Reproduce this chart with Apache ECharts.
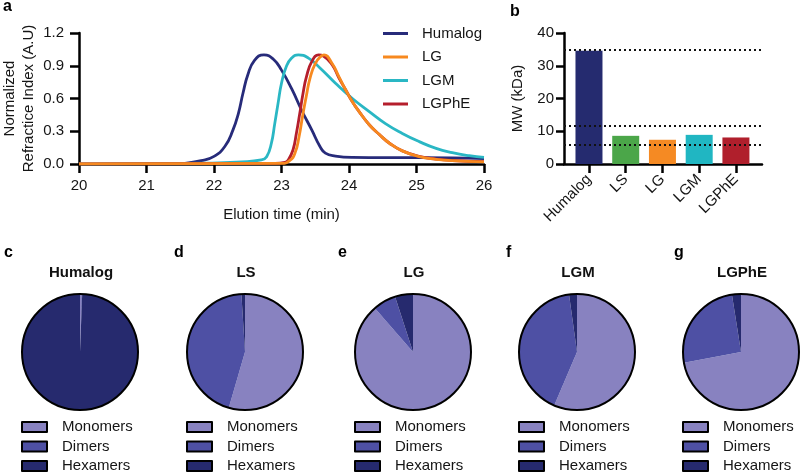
<!DOCTYPE html>
<html>
<head>
<meta charset="utf-8">
<script src="https://cdn.jsdelivr.net/npm/echarts@6.0.0/dist/echarts.min.js"></script>
<style>
html,body{margin:0;padding:0;background:#fff;}
#chart{width:800px;height:474px;}
</style>
</head>
<body>
<div id="chart"></div>
<script>
// ---------- DATA ----------
// Panel a: normalized refractive index vs elution time [min, A.U]
const humalogTrace = [[21.57,0.006],[21.81,0.03],[22.0,0.07],[22.16,0.16],[22.28,0.31],[22.36,0.46],[22.43,0.65],[22.5,0.815],[22.6,0.95],[22.74,1.0],[22.88,0.96],[23.0,0.86],[23.15,0.69],[23.3,0.49],[23.45,0.31],[23.57,0.16],[23.65,0.10],[23.8,0.073],[24.05,0.06],[24.54,0.058],[25.04,0.058],[25.53,0.056],[26.0,0.05]];
const lgTrace = [[20.0,0.0],[23.0,0.005],[23.12,0.03],[23.2,0.1],[23.26,0.25],[23.31,0.43],[23.37,0.63],[23.42,0.78],[23.5,0.92],[23.59,0.99],[23.63,1.0],[23.75,0.92],[23.85,0.80],[23.95,0.68],[24.05,0.57],[24.15,0.48],[24.3,0.36],[24.45,0.27],[24.6,0.19],[24.79,0.12],[25.04,0.067],[25.29,0.043],[25.53,0.03],[26.0,0.02]];
const lgmTrace = [[20.0,0.0],[21.6,0.005],[22.41,0.02],[22.7,0.037],[22.78,0.067],[22.85,0.19],[22.9,0.37],[22.95,0.56],[23.0,0.74],[23.07,0.89],[23.15,0.97],[23.25,1.0],[23.4,0.97],[23.57,0.88],[23.8,0.74],[24.05,0.60],[24.3,0.48],[24.54,0.37],[24.79,0.28],[25.04,0.205],[25.29,0.143],[25.53,0.104],[25.78,0.076],[26.0,0.06]];
const lgpheTrace = [[20.0,0.0],[22.9,0.005],[23.05,0.015],[23.1,0.037],[23.17,0.128],[23.22,0.28],[23.27,0.46],[23.32,0.65],[23.37,0.80],[23.45,0.94],[23.55,1.0],[23.62,0.99],[23.75,0.91],[23.85,0.79],[23.95,0.68],[24.05,0.57],[24.15,0.48],[24.3,0.36],[24.45,0.27],[24.6,0.19],[24.79,0.12],[25.04,0.07],[25.29,0.045],[25.53,0.032],[26.0,0.022]];
const lineNames = ['Humalog','LG','LGM','LGPhE'];
const xTicksA = [20,21,22,23,24,25,26];
const yTicksA = [0,0.3,0.6,0.9,1.2];

// Panel b: molecular weight
const barCategories = ['Humalog','LS','LG','LGM','LGPhE'];
const barValues = [34.6, 8.6, 7.4, 8.9, 8.1];
const refLineValues = [35, 11.6, 5.8];
const yTicksB = [0,10,20,30,40];

// Panels c-g: oligomer fractions (%)
const pieTitles = ['Humalog','LS','LG','LGM','LGPhE'];
const pieLetters = ['c','d','e','f','g'];
const speciesNames = ['Monomers','Dimers','Hexamers'];
const monomerPct = [0.4, 54.5, 88.6, 56.4, 72.0];
const dimerPct = [0.2, 44.5, 6.4, 41.4, 25.5];
const hexamerPct = [99.4, 1.0, 5.0, 2.2, 2.5];

// ---------- STYLE ----------
const FONT = "'Liberation Sans', Arial, Helvetica, sans-serif";
const TXT = '#151515';
const lineColors = ['#272b7a','#f7891f','#2ab7c4','#b51e2c'];
const barColors = ['#252b6f','#4ba649','#f58a23','#20b6c2','#b01f2c'];
const speciesColors = ['#8882c0','#4e50a4','#262a6e'];
const pieCX = [80, 245, 413, 577, 741];
const pieCY = 352;
const pieR = 58;
const lineDrawOrder = [0, 2, 3, 1];
const traces = [humalogTrace, lgTrace, lgmTrace, lgpheTrace];

const axisLineStyle = {color:'#000', width:2.5};
const labelStyle = {color:TXT, fontSize:15, fontFamily:FONT};

const chart = echarts.init(document.getElementById('chart'), null, {renderer:'canvas'});

const series = [];
lineDrawOrder.forEach(i => {
  series.push({
    type:'line', name:lineNames[i], xAxisIndex:0, yAxisIndex:0,
    data:traces[i], showSymbol:false, symbol:'none',
    smooth:0.5,
    lineStyle:{color:lineColors[i], width:2.8},
    itemStyle:{color:lineColors[i]},
    z: 2 + lineDrawOrder.indexOf(i)
  });
});
series.push({
  type:'bar', name:'MW', xAxisIndex:1, yAxisIndex:1, barWidth:27,
  data: barValues.map((v,i)=>({value:[i,v], itemStyle:{color:barColors[i]}})),
  markLine:{
    silent:true, symbol:['none','none'], label:{show:false},
    lineStyle:{color:'#111', type:[2,3], width:2},
    data: refLineValues.map(v=>({yAxis:v}))
  }
});
pieTitles.forEach((t,k) => {
  series.push({
    type:'pie', name:'pie-'+t, center:[pieCX[k], pieCY], radius:pieR,
    startAngle:90, clockwise:true, silent:true,
    label:{show:false}, labelLine:{show:false},
    itemStyle:{borderWidth:0},
    emphasis:{disabled:true},
    data:[
      {name:speciesNames[0], value:monomerPct[k], itemStyle:{color:speciesColors[0]}},
      {name:speciesNames[1], value:dimerPct[k], itemStyle:{color:speciesColors[1]}},
      {name:speciesNames[2], value:hexamerPct[k], itemStyle:{color:speciesColors[2]}}
    ]
  });
  series.push({
    type:'pie', name:'outline-'+t, center:[pieCX[k], pieCY], radius:pieR,
    silent:true, label:{show:false}, labelLine:{show:false},
    emphasis:{disabled:true},
    itemStyle:{color:'rgba(0,0,0,0)', borderColor:'#000', borderWidth:2},
    data:[{name:'outline', value:1}], z:3
  });
});

const legends = [{
  data: lineNames, orient:'vertical', left:383, top:26, padding:0, icon:'rect',
  itemWidth:25, itemHeight:3, itemGap:8.5, selectedMode:false,
  textStyle:{color:TXT, fontSize:15, fontFamily:FONT, lineHeight:15, padding:[0,0,0,9]}
}];
pieCX.forEach(cx => {
  legends.push({
    data: speciesNames, orient:'vertical', left:cx-59, top:419.5, padding:0, height:60, icon:'rect',
    itemWidth:25, itemHeight:10, itemGap:4.5, selectedMode:false,
    itemStyle:{borderColor:'#000', borderWidth:2},
    textStyle:{color:TXT, fontSize:15, fontFamily:FONT, lineHeight:15, padding:[0,0,0,10]}
  });
});

const graphics = [
  {type:'text', x:3, y:6.2, style:{text:'a', font:'bold 16px '+FONT, fill:'#000', textAlign:'left', textVerticalAlign:'middle'}},
  {type:'text', x:510, y:11.5, style:{text:'b', font:'bold 16px '+FONT, fill:'#000', textAlign:'left', textVerticalAlign:'middle'}}
];
const letterX = [4, 174, 338, 506, 674];
pieLetters.forEach((l,k) => {
  graphics.push({type:'text', x:letterX[k], y:252.5, style:{text:l, font:'bold 16px '+FONT, fill:'#000', textAlign:'left', textVerticalAlign:'middle'}});
  graphics.push({type:'text', x:pieCX[k]+1, y:273, style:{text:pieTitles[k], font:'bold 15px '+FONT, fill:'#111', textAlign:'center', textVerticalAlign:'middle'}});
});

const option = {
  animation:false,
  backgroundColor:'#fff',
  textStyle:{fontFamily:FONT},
  grid:[
    {left:79, top:33, width:405, height:131, containLabel:false, outerBoundsMode:'none'},
    {left:564, top:33, width:198, height:131, containLabel:false, outerBoundsMode:'none'}
  ],
  xAxis:[
    {type:'value', gridIndex:0, min:xTicksA[0], max:xTicksA[xTicksA.length-1], interval:1,
     name:'Elution time (min)', nameLocation:'middle', nameGap:43, nameMoveOverlap:false,
     nameTextStyle:{color:TXT, fontSize:15, fontFamily:FONT},
     axisLine:{show:true, onZero:false, lineStyle:axisLineStyle},
     axisTick:{show:true, length:9, lineStyle:axisLineStyle},
     axisLabel:Object.assign({margin:14}, labelStyle),
     splitLine:{show:false}},
    {type:'value', gridIndex:1, min:-0.68, max:4.71,
     axisLine:{show:true, onZero:false, lineStyle:axisLineStyle},
     axisTick:{show:true, length:9, lineStyle:axisLineStyle, customValues:barCategories.map((c,i)=>i)},
     axisLabel:Object.assign({margin:13, rotate:45, customValues:barCategories.map((c,i)=>i),
       formatter:v=>barCategories[Math.round(v)]}, labelStyle),
     splitLine:{show:false}}
  ],
  yAxis:[
    {type:'value', gridIndex:0, min:yTicksA[0], max:yTicksA[yTicksA.length-1], interval:0.3,
     name:'Normalized\nRefractice Index (A.U)', nameLocation:'middle', nameGap:41, nameRotate:90, nameMoveOverlap:false,
     nameTextStyle:{color:TXT, fontSize:15, fontFamily:FONT, lineHeight:19},
     axisLine:{show:true, onZero:false, lineStyle:axisLineStyle},
     axisTick:{show:true, length:9, lineStyle:axisLineStyle},
     axisLabel:Object.assign({margin:15, formatter:v=>v.toFixed(1)}, labelStyle),
     splitLine:{show:false}},
    {type:'value', gridIndex:1, min:yTicksB[0], max:yTicksB[yTicksB.length-1], interval:10,
     name:'MW (kDa)', nameLocation:'middle', nameGap:38.5, nameRotate:90, nameMoveOverlap:false,
     nameTextStyle:{color:TXT, fontSize:15, fontFamily:FONT},
     axisLine:{show:true, onZero:false, lineStyle:axisLineStyle},
     axisTick:{show:true, length:8, lineStyle:axisLineStyle},
     axisLabel:Object.assign({margin:10}, labelStyle),
     splitLine:{show:false}}
  ],
  legend: legends,
  series: series,
  graphic: graphics
};
chart.setOption(option);
</script>
</body>
</html>
